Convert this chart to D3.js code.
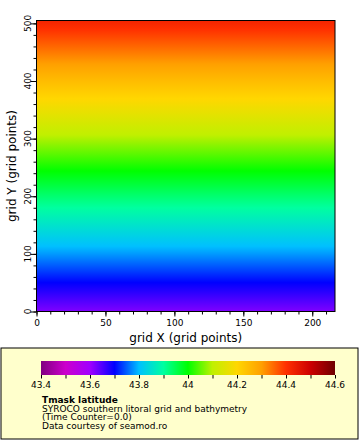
<!DOCTYPE html>
<html><head><meta charset="utf-8">
<script src="https://cdn.jsdelivr.net/npm/d3@7"></script>
<style>
html,body{margin:0;padding:0;background:#fff;}
svg{display:block;font-family:"DejaVu Sans",sans-serif;}
</style></head>
<body>
<script>
// ---- data ----
const rowY = [0, 50, 100, 150, 200, 250, 300, 350, 400, 450, 505];           // grid Y index
const rowLatitude = [43.62, 43.70, 43.78, 43.855, 43.93, 44.01, 44.09, 44.17, 44.25, 44.335, 44.425]; // Tmask latitude
const gridXMax = 216.5;
const gridYMax = 505;
const xTicks = [0, 50, 100, 150, 200];
const yTicks = [0, 100, 200, 300, 400, 500];
const cbarValues = [43.4, 43.5, 43.6, 43.7, 43.8, 43.9, 44.0, 44.1, 44.2, 44.3, 44.4, 44.5, 44.6];
const cbarColors = ["#800080", "#cc00cc", "#a000ff", "#0000ff", "#00c0ff", "#00ffa0", "#00ff00",
                    "#c0f000", "#ffd700", "#ffa000", "#ff3000", "#cc0000", "#700000"];
const cbarTickLabels = ["43.4", "43.6", "43.8", "44", "44.2", "44.4", "44.6"];
const titleText = "Tmask latitude";
const infoLines = ["SYROCO southern litoral grid and bathymetry", "(Time Counter=0.0)", "Data courtesy of seamod.ro"];

const W = 360, H = 440;
const svg = d3.select("body").append("svg").attr("width", W).attr("height", H);
const defs = svg.append("defs");

const x = d3.scaleLinear().domain([0, gridXMax]).range([36.5, 335]);
const y = d3.scaleLinear().domain([0, gridYMax]).range([311.5, 20.5]);
const color = d3.scaleLinear().domain(cbarValues).range(cbarColors).clamp(true);

// field gradient (piecewise-linear between data rows, with colormap stops inserted)
const fg = defs.append("linearGradient").attr("id", "field")
  .attr("gradientUnits", "userSpaceOnUse")
  .attr("x1", 0).attr("x2", 0).attr("y1", y(0)).attr("y2", y(gridYMax));
const span = y(gridYMax) - y(0);
const stops = [];
for (let i = 0; i < rowY.length; i++) {
  stops.push({yy: rowY[i], v: rowLatitude[i]});
  if (i < rowY.length - 1) {
    const v0 = rowLatitude[i], v1 = rowLatitude[i + 1];
    cbarValues.forEach(s => {
      if (s > v0 && s < v1) {
        stops.push({yy: rowY[i] + (s - v0) / (v1 - v0) * (rowY[i + 1] - rowY[i]), v: s});
      }
    });
  }
}
fg.selectAll("stop").data(stops).enter().append("stop")
  .attr("offset", d => (y(d.yy) - y(0)) / span)
  .attr("stop-color", d => color(d.v));

svg.append("rect")
  .attr("x", x(0)).attr("y", y(gridYMax))
  .attr("width", x(gridXMax) - x(0)).attr("height", y(0) - y(gridYMax))
  .attr("fill", "url(#field)");

// axes
const xAxis = svg.append("g").attr("transform", `translate(0,${y(0)})`);
xAxis.call(d3.axisBottom(x).tickValues(d3.range(0, 211, 10)).tickSize(3).tickFormat(""));
xAxis.call(g => g.select(".domain").remove());
const xMaj = svg.append("g").attr("transform", `translate(0,${y(0)})`)
  .call(d3.axisBottom(x).tickValues(xTicks).tickSize(5).tickPadding(3));
xMaj.select(".domain").remove();
xMaj.selectAll("text").attr("font-size", 9).attr("font-family", "DejaVu Sans").attr("fill", "#000");
svg.selectAll(".tick line").attr("stroke", "#000");

const yAxisMinor = svg.append("g").attr("transform", `translate(${x(0)},0)`)
  .call(d3.axisLeft(y).tickValues(d3.range(0, 501, 20)).tickSize(3).tickFormat(""));
yAxisMinor.select(".domain").remove();
const yMaj = svg.append("g").attr("transform", `translate(${x(0)},0)`)
  .call(d3.axisLeft(y).tickValues(yTicks).tickSize(6).tickFormat(""));
yMaj.select(".domain").remove();
svg.selectAll(".tick line").attr("stroke", "#000");
svg.append("g").selectAll("text").data(yTicks).enter().append("text")
  .attr("transform", d => `translate(30.7,${y(d)}) rotate(-90)`)
  .attr("text-anchor", "middle").attr("font-size", 9).attr("fill", "#000")
  .text(d => d);

// plot border
svg.append("rect")
  .attr("x", x(0)).attr("y", y(gridYMax))
  .attr("width", x(gridXMax) - x(0)).attr("height", y(0) - y(gridYMax))
  .attr("fill", "none").attr("stroke", "#000").attr("stroke-width", 1);

// axis titles
svg.append("text").attr("x", (x(0) + x(gridXMax)) / 2).attr("y", 342)
  .attr("text-anchor", "middle").attr("font-size", 12).text("grid X (grid points)");
svg.append("text").attr("transform", `translate(15.5,${(y(0) + y(gridYMax)) / 2}) rotate(-90)`)
  .attr("text-anchor", "middle").attr("font-size", 12).text("grid Y (grid points)");

// legend box
svg.append("rect").attr("x", 1).attr("y", 348).attr("width", 357).attr("height", 91)
  .attr("fill", "#ffffcc").attr("stroke", "#000").attr("stroke-width", 1);

const cx = d3.scaleLinear().domain([43.4, 44.6]).range([41, 335]);
const cg = defs.append("linearGradient").attr("id", "cbar")
  .attr("gradientUnits", "userSpaceOnUse")
  .attr("x1", cx(43.4)).attr("x2", cx(44.6)).attr("y1", 0).attr("y2", 0);
cg.selectAll("stop").data(cbarValues).enter().append("stop")
  .attr("offset", d => (cx(d) - cx(43.4)) / (cx(44.6) - cx(43.4)))
  .attr("stop-color", (d, i) => cbarColors[i]);
svg.append("rect").attr("x", cx(43.4)).attr("y", 361).attr("width", cx(44.6) - cx(43.4)).attr("height", 14)
  .attr("fill", "url(#cbar)");
const cAxis = svg.append("g").attr("transform", "translate(0,375)")
  .call(d3.axisBottom(cx).tickValues(cbarValues).tickSize(3.5).tickFormat(""));
cAxis.select(".domain").remove();
cAxis.selectAll("line").attr("stroke", "#000");
svg.append("g").selectAll("text").data(cbarTickLabels).enter().append("text")
  .attr("x", d => cx(+d)).attr("y", 387.7).attr("text-anchor", "middle")
  .attr("font-size", 9).attr("fill", "#000").text(d => d);

svg.append("text").attr("x", 42).attr("y", 403).attr("font-size", 9).attr("font-weight", "bold").text(titleText);
svg.append("g").selectAll("text").data(infoLines).enter().append("text")
  .attr("x", 42).attr("y", (d, i) => 411.6 + i * 8.6).attr("font-size", 9).text(d => d);
</script>
</body></html>
